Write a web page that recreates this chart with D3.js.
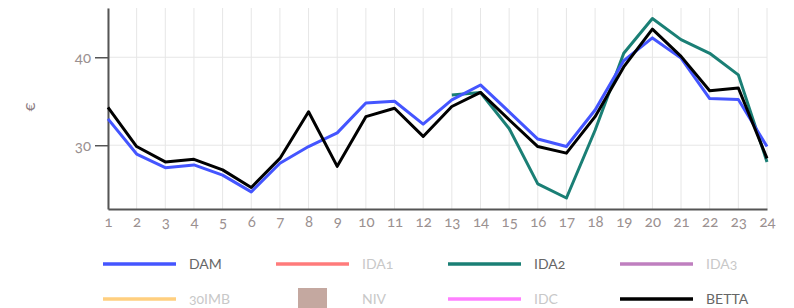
<!DOCTYPE html>
<html>
<head>
<meta charset="utf-8">
<script src="https://cdn.jsdelivr.net/npm/d3@7"></script>
<style>
  body { margin: 0; background: #fff; }
  svg text { font-family: Lato, "Open Sans", sans-serif; font-variant-numeric: oldstyle-nums; }
  .grid line { stroke: #e6e6e6; stroke-width: 1; }
  .axis path, .axis line { stroke: #555; }
  .axis text { fill: #9a9090; font-size: 15px; }
</style>
</head>
<body>
<svg id="chart" width="794" height="308"></svg>
<script>
const hours = d3.range(1, 25);
const yTicks = [30, 40];

const dam = [33.0, 29.0, 27.45, 27.76, 26.6, 24.7, 27.95, 29.85, 31.4, 34.8, 35.0, 32.4,
  35.15, 36.85, 33.8, 30.7, 29.85, 34.0, 39.6, 42.2, 39.9, 35.3, 35.2, 29.85];
const betta = [34.3, 29.85, 28.1, 28.4, 27.2, 25.2, 28.5, 33.8, 27.6, 33.25, 34.2, 31.0,
  34.4, 36.0, 32.9, 29.85, 29.1, 33.25, 38.9, 43.2, 40.1, 36.2, 36.5, 28.5];
const ida2 = [null, null, null, null, null, null, null, null, null, null, null, null,
  35.7, 36.0, 31.9, 25.6, 24.0, 31.7, 40.45, 44.4, 42.0, 40.45, 38.0, 28.1];

const legendRows = [
  [["DAM", "#4455ff", "line", true], ["IDA1", "#ff7b7b", "line", false], ["IDA2", "#1a7f75", "line", true], ["IDA3", "#bf7fbf", "line", false]],
  [["30IMB", "#ffcf7f", "line", false], ["NIV", "#c4a8a0", "square", false], ["IDC", "#ff80ff", "line", false], ["BETTA", "#000000", "line", true]]
];

const margin = {top: 8, right: 27, bottom: 99, left: 108};
const width = 794 - margin.left - margin.right;
const height = 308 - margin.top - margin.bottom;

const svg = d3.select("#chart");
const g = svg.append("g").attr("transform", `translate(${margin.left},${margin.top})`);

const x = d3.scaleLinear().domain([1, 24]).range([0, width]);
const y = d3.scaleLinear().domain([22.75, 45.6]).range([height, 0]);

// grid
g.append("g").attr("class", "grid")
  .selectAll("line.v").data(hours).enter().append("line")
    .attr("x1", d => x(d)).attr("x2", d => x(d))
    .attr("y1", 0).attr("y2", height);
g.append("g").attr("class", "grid")
  .selectAll("line.h").data(yTicks).enter().append("line")
    .attr("x1", 0).attr("x2", width)
    .attr("y1", d => y(d)).attr("y2", d => y(d));

// axes
const xAxis = g.append("g").attr("class", "axis")
  .attr("transform", `translate(0,${height})`)
  .call(d3.axisBottom(x).tickValues(hours).tickSize(0).tickPadding(7).tickFormat(d3.format("d")));
xAxis.select(".domain").attr("stroke-width", 2);

const yAxis = g.append("g").attr("class", "axis")
  .call(d3.axisLeft(y).tickValues(yTicks).tickSize(13).tickSizeOuter(0).tickPadding(4));
yAxis.select(".domain").attr("stroke-width", 2);
yAxis.selectAll(".tick line").attr("stroke-width", 1.5);

svg.append("text")
  .attr("transform", "translate(29,107) rotate(-90)")
  .attr("text-anchor", "middle")
  .attr("dy", "0.35em")
  .attr("fill", "#8a7a80")
  .attr("font-size", 16)
  .text("€");

const line = d3.line()
  .defined(d => d != null)
  .x((d, i) => x(hours[i]))
  .y(d => y(d));

[[ida2, "#1a7f75"], [dam, "#4455ff"], [betta, "#000"]].forEach(([data, color]) => {
  g.append("path")
    .datum(data)
    .attr("fill", "none")
    .attr("stroke", color)
    .attr("stroke-width", 3)
    .attr("stroke-linejoin", "round")
    .attr("d", line);
});

// legend
const colX = [103, 276, 448, 620];
const rowY = [264, 299];
legendRows.forEach((row, r) => {
  row.forEach(([name, color, kind, on], c) => {
    const lg = svg.append("g").attr("transform", `translate(${colX[c]},${rowY[r]})`);
    if (kind === "line") {
      lg.append("line").attr("x1", 0).attr("x2", 73).attr("y1", 0).attr("y2", 0)
        .attr("stroke", color).attr("stroke-width", 3.5);
    } else {
      lg.append("rect").attr("x", 22).attr("y", -11).attr("width", 29).attr("height", 29)
        .attr("fill", color);
    }
    lg.append("text")
      .attr("x", 86).attr("y", 0).attr("dy", "0.35em")
      .attr("font-size", 14)
      .attr("fill", on ? "#666" : "#c8c8c8")
      .text(name);
  });
});
</script>
</body>
</html>
